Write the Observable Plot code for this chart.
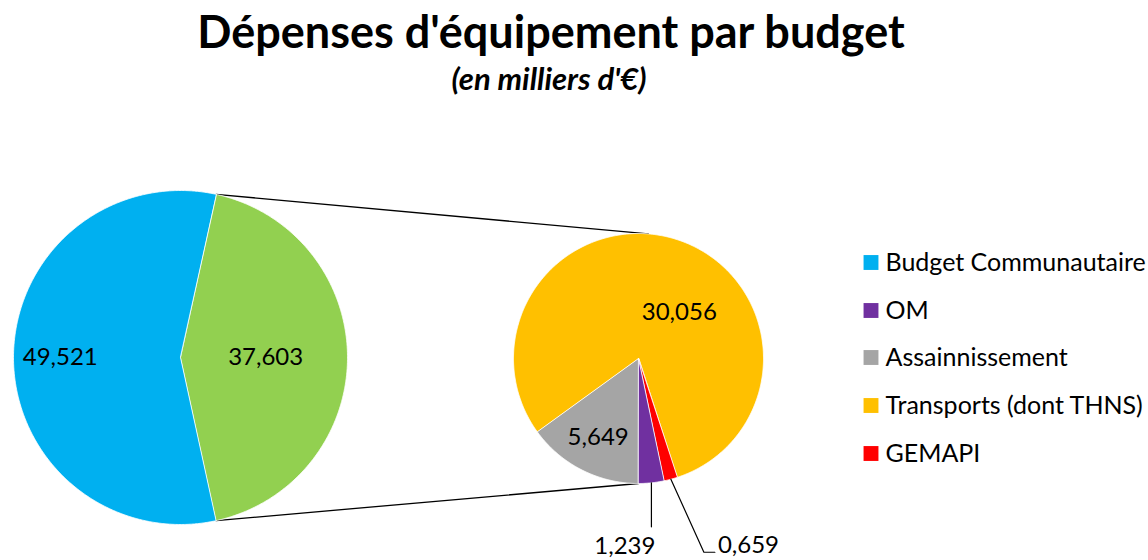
<!DOCTYPE html>
<html>
<head>
<meta charset="utf-8">
<script src="https://cdn.jsdelivr.net/npm/d3@7"></script>
<script src="https://cdn.jsdelivr.net/npm/@observablehq/plot@0.6"></script>
<style>
  html, body { margin: 0; padding: 0; background: #fff; }
  body { font-family: Lato, "Noto Sans", sans-serif; color: #000; }
  #wrap { position: relative; width: 1148px; height: 560px; overflow: hidden; }
  #title { position: absolute; left: 0; width: 1102px; top: 4px; text-align: center;
           font-weight: 700; font-size: 45px; line-height: 54px; }
  #subtitle { position: absolute; left: 0; width: 1098px; top: 60px; text-align: center;
              font-weight: 700; font-style: italic; font-size: 31px; line-height: 37px; }
  #chart { position: absolute; left: 0; top: 110px; }
</style>
</head>
<body>
<div id="wrap">
  <div id="title">Dépenses d'équipement par budget</div>
  <div id="subtitle">(en milliers d'€)</div>
  <div id="chart"></div>
</div>
<script>
// ---------- data ----------
const mainNames  = ["Autres budgets", "Budget Communautaire"];
const mainValues = [37.603, 49.521];
const subNames   = ["Assainnissement", "Transports (dont THNS)", "GEMAPI", "OM"];
const subValues  = [5.649, 30.056, 0.659, 1.239];
const legendNames  = ["Budget Communautaire", "OM", "Assainnissement", "Transports (dont THNS)", "GEMAPI"];
const legendColors = ["#00B0F0", "#7030A0", "#A5A5A5", "#FFC000", "#FF0000"];
const otherColor = "#92D050";

// ---------- layout ----------
const W = 1148, H = 450, TOP = 110;
const mainPie = {cx: 180, cy: 357 - TOP, r: 167};
const subPie  = {cx: 638, cy: 358 - TOP, r: 125};
const fmt = d3.formatLocale({decimal: ",", thousands: " ", grouping: [3], currency: ["", "€"]}).format(".3f");

const pt = (c, a, k = 1) => ({x: c.cx + c.r * k * Math.sin(a), y: c.cy - c.r * k * Math.cos(a)});

const mainData = mainNames.map((name, i) => ({name, value: mainValues[i]}));
const subData  = subNames.map((name, i) => ({name, value: subValues[i]}));
const otherAngle = 2 * Math.PI * mainValues[0] / d3.sum(mainValues);
const mainStart = Math.PI / 2 - otherAngle / 2;
const mainArcs = d3.pie().sort(null).value(d => d.value).startAngle(mainStart).endAngle(mainStart + 2 * Math.PI)(mainData);
const subArcs  = d3.pie().sort(null).value(d => d.value).startAngle(Math.PI).endAngle(3 * Math.PI)(subData);

function slicePoints(arcs, c) {
  const pts = [];
  for (const a of arcs) {
    const name = a.data.name;
    pts.push({name, x: c.cx, y: c.cy});
    const n = Math.max(2, Math.ceil((a.endAngle - a.startAngle) / (Math.PI / 360)));
    for (let i = 0; i <= n; ++i) {
      const t = a.startAngle + (a.endAngle - a.startAngle) * i / n;
      pts.push({name, ...pt(c, t)});
    }
  }
  return pts;
}
const slices = [...slicePoints(mainArcs, mainPie), ...slicePoints(subArcs, subPie)];

// inside labels: radius fraction and angle shift (degrees) from slice mid-angle
const inside = {
  "Budget Communautaire": {k: 0.72, shift: 0},
  "Autres budgets": {k: 0.51, shift: 0},
  "Transports (dont THNS)": {k: 0.49, shift: 23.8},
  "Assainnissement": {k: 0.71, shift: 0}
};
const labels = [];
for (const [arcs, c] of [[mainArcs, mainPie], [subArcs, subPie]]) {
  for (const a of arcs) {
    const p = inside[a.data.name];
    if (!p) continue;
    const mid = (a.startAngle + a.endAngle) / 2 + p.shift * Math.PI / 180;
    labels.push({text: fmt(a.data.value), ...pt(c, mid, p.k)});
  }
}

// outside labels with leader lines
const leaders = [];
const labelsEnd = [];
const labelsStart = [];
for (const a of subArcs) {
  const mid = (a.startAngle + a.endAngle) / 2;
  const s = pt(subPie, mid);
  if (a.data.name === "OM") {
    const e = {x: s.x, y: s.y + 44};
    leaders.push({id: "om", ...s}, {id: "om", ...e});
    labelsEnd.push({text: fmt(a.data.value), x: e.x + 4, y: e.y + 19});
  } else if (a.data.name === "GEMAPI") {
    const m = {x: s.x + 33, y: s.y + 73};
    const e = {x: m.x + 11, y: m.y};
    leaders.push({id: "ge", ...s}, {id: "ge", ...m}, {id: "ge", ...e});
    labelsStart.push({text: fmt(a.data.value), x: e.x + 3, y: e.y - 7});
  }
}

// connector lines between the two pies
const otherArc = mainArcs[0];
const connectors = [
  {id: "top", ...pt(mainPie, otherArc.startAngle)}, {id: "top", ...pt(subPie, 4.5 * Math.PI / 180)},
  {id: "bot", ...pt(mainPie, otherArc.endAngle)}, {id: "bot", ...pt(subPie, Math.PI)}
];

// legend
const legendRows = [262, 310, 357, 405, 453].map(y => y - TOP);
const legend = legendNames.map((name, i) => ({name, y: legendRows[i]}));

const chart = Plot.plot({
  width: W, height: H, margin: 0,
  x: {domain: [0, W], range: [0, W], axis: null},
  y: {domain: [0, H], range: [0, H], axis: null},
  color: {type: "ordinal", domain: [...legendNames, "Autres budgets"], range: [...legendColors, otherColor]},
  style: {fontFamily: "Lato, 'Noto Sans', sans-serif", background: "#fff"},
  marks: [
    Plot.line(connectors, {x: "x", y: "y", z: "id", stroke: "#000", strokeWidth: 1.3}),
    Plot.line(slices, {x: "x", y: "y", z: "name", fill: "name", stroke: "#fff", strokeWidth: 0.8, strokeLinejoin: "round", curve: "linear-closed"}),
    Plot.line(leaders, {x: "x", y: "y", z: "id", stroke: "#000", strokeWidth: 1.2}),
    Plot.text(labels, {x: "x", y: "y", text: "text", fontSize: 24, fill: "#000"}),
    Plot.text(labelsEnd, {x: "x", y: "y", text: "text", fontSize: 24, fill: "#000", textAnchor: "end"}),
    Plot.text(labelsStart, {x: "x", y: "y", text: "text", fontSize: 24, fill: "#000", textAnchor: "start"}),
    Plot.dot(legend, {x: 870.5, y: "y", symbol: "square", r: 8.4, fill: "name", stroke: null}),
    Plot.text(legend, {x: 885, y: "y", text: "name", textAnchor: "start", fontSize: 25, fill: "#000"})
  ]
});
document.getElementById("chart").appendChild(chart);
</script>
</body>
</html>
